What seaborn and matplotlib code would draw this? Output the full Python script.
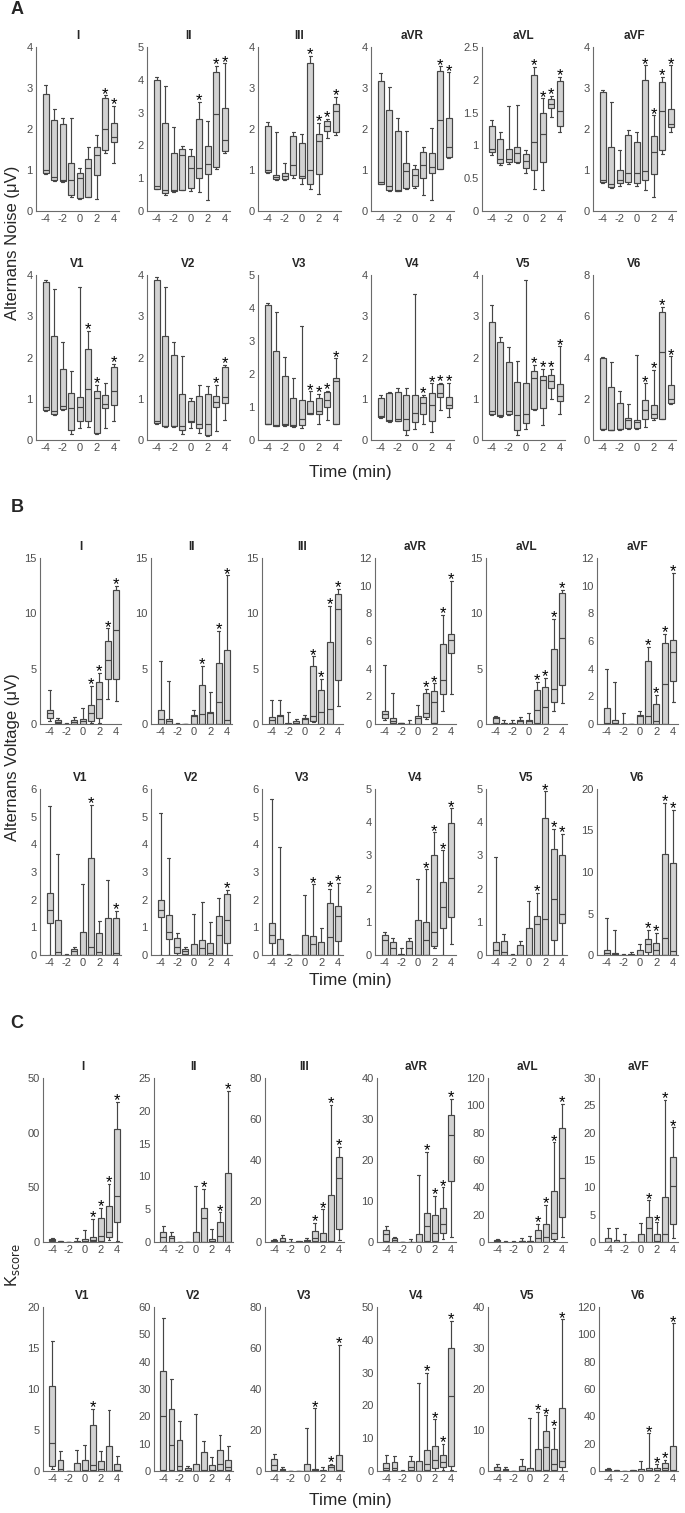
import numpy as np
import pandas as pd
import matplotlib
matplotlib.use("Agg")
import matplotlib.pyplot as plt
import seaborn as sns

# ── data ─────────────────────────────────────────────────────────────────────
TIMES = [-4, -3, -2, -1, 0, 1, 2, 3, 4]
LEADS = ["I", "II", "III", "aVR", "aVL", "aVF", "V1", "V2", "V3", "V4", "V5", "V6"]

# each box: (lower whisker, Q1, median, Q3, upper whisker), one per time point
NOISE = {
    "I":   [(0.90, 0.92, 1.00, 2.85, 3.07), (0.73, 0.75, 0.83, 2.23, 2.50), (0.70, 0.72, 0.75, 2.13, 2.27),
            (0.33, 0.38, 0.75, 1.17, 2.28), (0.30, 0.32, 0.80, 0.92, 1.04), (0.33, 0.35, 1.05, 1.28, 1.57),
            (0.30, 0.88, 1.37, 1.55, 1.85), (1.42, 1.50, 2.00, 2.75, 2.82), (1.18, 1.68, 1.80, 2.15, 2.57)],
    "II":  [(0.66, 0.68, 0.75, 4.00, 4.08), (0.50, 0.55, 0.65, 2.67, 3.80), (0.57, 0.60, 0.65, 1.78, 2.55),
            (0.63, 0.65, 1.70, 1.88, 1.97), (0.60, 0.70, 1.30, 1.68, 1.90), (0.58, 1.00, 1.30, 2.82, 3.33),
            (0.35, 1.12, 1.43, 1.98, 2.73), (1.27, 1.35, 2.97, 4.25, 4.42), (1.77, 1.83, 2.15, 3.13, 4.50)],
    "III": [(0.93, 0.95, 1.00, 2.08, 2.18), (0.75, 0.78, 0.83, 0.88, 1.92), (0.75, 0.78, 0.85, 0.92, 1.17),
            (0.80, 0.87, 1.12, 1.82, 1.93), (0.67, 0.80, 0.85, 1.67, 1.88), (0.53, 0.65, 1.00, 3.60, 3.78),
            (0.42, 0.90, 1.70, 1.88, 2.15), (1.78, 1.95, 2.08, 2.20, 2.25), (1.85, 1.92, 2.45, 2.62, 2.78)],
    "aVR": [(0.65, 0.67, 0.70, 3.18, 3.37), (0.48, 0.52, 0.60, 2.47, 3.03), (0.48, 0.50, 0.52, 1.95, 2.28),
            (0.53, 0.55, 0.98, 1.17, 1.95), (0.55, 0.62, 0.88, 1.03, 1.13), (0.38, 0.80, 1.12, 1.45, 1.57),
            (0.27, 0.93, 1.08, 1.42, 2.03), (1.02, 1.03, 2.23, 3.42, 3.53), (1.30, 1.32, 1.55, 2.27, 3.38)],
    "aVL": [(0.85, 0.90, 0.95, 1.30, 1.38), (0.70, 0.73, 0.80, 1.10, 1.20), (0.72, 0.75, 0.80, 0.95, 1.60),
            (0.73, 0.75, 0.88, 0.98, 1.61), (0.58, 0.65, 0.76, 0.87, 0.93), (0.33, 0.62, 1.05, 2.08, 2.20),
            (0.32, 0.75, 1.18, 1.50, 1.72), (1.43, 1.57, 1.63, 1.70, 1.76), (1.20, 1.30, 1.53, 1.98, 2.05)],
    "aVF": [(0.68, 0.70, 0.75, 2.90, 2.95), (0.55, 0.58, 0.67, 1.57, 2.65), (0.62, 0.68, 0.75, 1.00, 1.50),
            (0.67, 0.70, 0.92, 1.85, 1.97), (0.60, 0.68, 0.92, 1.68, 1.92), (0.52, 0.75, 0.98, 3.20, 3.55),
            (0.35, 0.90, 1.45, 1.82, 2.33), (1.40, 1.50, 2.45, 3.15, 3.27), (1.92, 2.05, 2.12, 2.50, 3.55)],
    "V1":  [(0.70, 0.72, 0.80, 3.82, 3.88), (0.60, 0.63, 0.70, 2.53, 3.65), (0.73, 0.75, 0.82, 1.72, 2.37),
            (0.15, 0.25, 0.77, 1.15, 1.68), (0.30, 0.45, 0.80, 1.05, 3.70), (0.32, 0.45, 1.23, 2.20, 2.65),
            (0.15, 0.18, 1.02, 1.18, 1.33), (0.30, 0.78, 0.88, 1.08, 1.37), (0.45, 0.85, 1.20, 1.78, 1.85)],
    "V2":  [(0.40, 0.42, 0.45, 3.88, 3.95), (0.32, 0.33, 0.35, 2.52, 3.70), (0.32, 0.33, 0.35, 2.05, 2.37),
            (0.15, 0.25, 0.35, 1.12, 2.03), (0.30, 0.43, 0.47, 0.95, 1.03), (0.17, 0.30, 0.40, 1.07, 1.33),
            (0.10, 0.13, 0.40, 1.12, 1.30), (0.23, 0.80, 0.92, 1.07, 1.33), (0.48, 0.90, 1.05, 1.77, 1.83)],
    "V3":  [(0.47, 0.48, 0.50, 4.08, 4.15), (0.42, 0.43, 0.45, 2.70, 3.88), (0.43, 0.45, 0.47, 1.93, 2.53),
            (0.40, 0.42, 0.45, 1.27, 1.88), (0.35, 0.45, 0.65, 1.20, 3.45), (0.78, 0.80, 0.83, 1.18, 1.47),
            (0.47, 0.80, 0.88, 1.27, 1.40), (0.60, 1.00, 1.20, 1.45, 1.50), (0.48, 0.50, 1.80, 1.87, 2.47)],
    "V4":  [(0.53, 0.55, 0.57, 1.03, 1.08), (0.43, 0.45, 0.48, 1.13, 1.17), (0.45, 0.47, 0.50, 1.17, 1.27),
            (0.13, 0.25, 0.52, 1.10, 1.25), (0.27, 0.43, 0.65, 1.08, 3.55), (0.40, 0.62, 0.90, 1.05, 1.10),
            (0.20, 0.45, 0.85, 1.15, 1.37), (0.72, 1.05, 1.15, 1.35, 1.38), (0.55, 0.77, 0.85, 1.05, 1.38)],
    "V5":  [(0.60, 0.63, 0.70, 2.85, 3.28), (0.55, 0.57, 0.60, 2.37, 2.50), (0.60, 0.62, 0.70, 1.90, 2.25),
            (0.13, 0.25, 0.60, 1.40, 1.92), (0.27, 0.42, 0.62, 1.38, 3.88), (0.73, 0.75, 1.50, 1.68, 1.83),
            (0.37, 0.78, 1.45, 1.55, 1.72), (1.00, 1.27, 1.43, 1.57, 1.72), (0.63, 0.95, 1.07, 1.35, 2.27)],
    "V6":  [(0.50, 0.53, 0.55, 4.00, 4.03), (0.48, 0.50, 0.50, 2.55, 3.80), (0.50, 0.53, 0.55, 1.80, 2.40),
            (0.55, 0.57, 0.95, 1.07, 1.75), (0.53, 0.57, 0.88, 0.97, 4.10), (0.63, 1.00, 1.45, 1.95, 2.75),
            (0.95, 1.05, 1.25, 1.70, 3.40), (1.00, 1.03, 4.25, 6.20, 6.45), (1.73, 1.80, 1.97, 2.65, 4.05)],
}
NOISE_STARS = {"I": [3, 4], "II": [1, 3, 4], "III": [1, 2, 3, 4], "aVR": [3, 4], "aVL": [1, 2, 3, 4],
               "aVF": [1, 2, 3, 4], "V1": [1, 2, 4], "V2": [3, 4], "V3": [1, 2, 3, 4], "V4": [1, 2, 3, 4],
               "V5": [1, 2, 3, 4], "V6": [1, 2, 3, 4]}
NOISE_YAXIS = {"I": (4, 1), "II": (5, 1), "III": (4, 1), "aVR": (4, 1), "aVL": (2.5, 0.5), "aVF": (4, 1),
               "V1": (4, 1), "V2": (4, 1), "V3": (5, 1), "V4": (4, 1), "V5": (4, 1), "V6": (8, 2)}

VOLTAGE = {
    "I":   [(0.30, 0.55, 0.95, 1.25, 3.05), (0.00, 0.05, 0.20, 0.35, 0.55), (0.00, 0.00, 0.01, 0.02, 0.05),
            (0.00, 0.02, 0.20, 0.40, 0.65), (0.00, 0.02, 0.25, 0.45, 1.48), (0.05, 0.30, 0.95, 1.75, 3.45),
            (0.10, 0.55, 2.30, 3.80, 4.60), (2.25, 4.05, 5.75, 7.50, 8.65), (2.05, 4.05, 8.50, 12.1, 12.5)],
    "II":  [(0.00, 0.00, 0.45, 1.30, 5.65), (0.00, 0.00, 0.30, 0.45, 3.85), (0.00, 0.00, 0.00, 0.02, 0.05),
            (0.00, 0.00, 0.00, 0.00, 0.00), (0.00, 0.00, 0.75, 0.85, 1.30), (0.00, 0.00, 0.90, 3.55, 5.25),
            (0.00, 0.00, 0.95, 1.05, 2.85), (0.00, 0.00, 2.00, 5.50, 8.40), (0.00, 0.00, 0.35, 6.65, 13.45)],
    "III": [(0.00, 0.00, 0.40, 0.65, 2.15), (0.00, 0.00, 0.75, 0.80, 2.20), (0.00, 0.00, 0.00, 0.05, 1.10),
            (0.00, 0.00, 0.10, 0.25, 0.45), (0.00, 0.00, 0.45, 0.55, 0.85), (0.20, 0.30, 0.75, 5.20, 6.10),
            (0.00, 0.00, 1.10, 3.05, 4.10), (0.00, 0.00, 1.40, 7.40, 10.7), (1.65, 4.00, 10.35, 11.75, 12.2)],
    "aVR": [(0.30, 0.40, 0.70, 0.95, 4.25), (0.00, 0.05, 0.25, 0.45, 2.25), (0.00, 0.02, 0.05, 0.08, 0.10),
            (0.00, 0.00, 0.00, 0.02, 0.30), (0.00, 0.00, 0.45, 0.60, 1.35), (0.35, 0.50, 0.80, 2.25, 2.55),
            (0.05, 0.10, 1.60, 2.40, 2.95), (0.95, 2.20, 3.20, 5.75, 7.90), (2.20, 5.10, 6.10, 6.50, 10.35)],
    "aVL": [(0.05, 0.10, 0.50, 0.65, 0.75), (0.00, 0.00, 0.00, 0.05, 0.35), (0.00, 0.00, 0.02, 0.05, 0.40),
            (0.00, 0.00, 0.25, 0.40, 0.60), (0.00, 0.00, 0.25, 0.40, 0.95), (0.00, 0.05, 1.25, 3.05, 3.80),
            (0.00, 0.00, 1.55, 3.35, 4.15), (1.15, 1.95, 3.15, 6.75, 9.50), (1.90, 3.55, 7.75, 11.85, 12.1)],
    "aVF": [(0.00, 0.00, 0.05, 1.15, 4.00), (0.00, 0.00, 0.05, 0.30, 3.00), (0.00, 0.00, 0.00, 0.02, 0.80),
            (0.00, 0.00, 0.00, 0.00, 0.00), (0.00, 0.00, 0.55, 0.65, 0.95), (0.00, 0.00, 0.55, 4.55, 5.60),
            (0.00, 0.00, 0.20, 1.45, 2.10), (0.00, 0.00, 2.90, 5.85, 6.50), (1.60, 3.10, 5.20, 6.05, 10.95)],
    "V1":  [(0.00, 1.15, 1.62, 2.25, 5.40), (0.00, 0.00, 0.12, 1.28, 3.65), (0.00, 0.00, 0.00, 0.01, 0.02),
            (0.00, 0.00, 0.15, 0.20, 0.30), (0.00, 0.00, 0.00, 0.82, 2.55), (0.00, 0.00, 0.28, 3.50, 5.42),
            (0.00, 0.00, 0.12, 0.80, 1.22), (0.00, 0.00, 0.00, 1.33, 2.72), (0.00, 0.00, 0.08, 1.33, 1.60)],
    "V2":  [(0.00, 1.38, 1.62, 1.98, 5.15), (0.00, 0.58, 0.82, 1.45, 3.52), (0.00, 0.08, 0.30, 0.60, 0.80),
            (0.00, 0.02, 0.15, 0.20, 0.28), (0.00, 0.00, 0.00, 0.40, 1.47), (0.00, 0.00, 0.25, 0.55, 1.92),
            (0.00, 0.00, 0.08, 0.45, 1.20), (0.00, 0.00, 0.72, 1.42, 2.07), (0.00, 0.45, 1.28, 2.20, 2.35)],
    "V3":  [(0.00, 0.42, 0.72, 1.15, 5.65), (0.00, 0.00, 0.00, 0.57, 3.90), (0.00, 0.00, 0.00, 0.00, 0.03),
            (0.00, 0.00, 0.00, 0.00, 0.00), (0.00, 0.00, 0.00, 0.72, 2.17), (0.00, 0.00, 0.40, 0.67, 2.55),
            (0.00, 0.00, 0.00, 0.47, 0.97), (0.00, 0.00, 0.65, 1.87, 2.40), (0.00, 0.52, 1.40, 1.77, 2.60)],
    "V4":  [(0.00, 0.00, 0.45, 0.60, 0.68), (0.00, 0.00, 0.20, 0.40, 0.50), (0.00, 0.00, 0.00, 0.02, 0.20),
            (0.00, 0.00, 0.20, 0.42, 0.50), (0.00, 0.00, 0.00, 1.05, 2.30), (0.00, 0.00, 0.45, 0.98, 2.58),
            (0.20, 0.28, 0.68, 3.00, 3.70), (0.00, 0.82, 1.45, 2.20, 3.15), (0.33, 1.13, 2.32, 3.98, 4.42)],
    "V5":  [(0.00, 0.00, 0.15, 0.38, 2.95), (0.00, 0.00, 0.08, 0.42, 0.63), (0.00, 0.00, 0.00, 0.00, 0.02),
            (0.00, 0.00, 0.00, 0.30, 0.42), (0.00, 0.00, 0.00, 0.82, 1.63), (0.00, 0.00, 0.92, 1.18, 1.87),
            (0.00, 0.00, 1.08, 4.12, 4.93), (0.00, 0.45, 1.68, 3.18, 3.80), (0.00, 0.95, 1.25, 3.00, 3.65)],
    "V6":  [(0.00, 0.00, 0.30, 0.55, 4.50), (0.00, 0.00, 0.10, 0.20, 3.00), (0.00, 0.00, 0.00, 0.00, 0.10),
            (0.00, 0.00, 0.00, 0.10, 0.35), (0.00, 0.00, 0.00, 0.55, 1.30), (0.00, 0.40, 1.35, 1.90, 3.00),
            (0.00, 0.00, 0.60, 1.45, 2.70), (0.00, 0.00, 2.10, 12.2, 18.3), (0.00, 0.00, 0.50, 11.1, 17.5)],
}
VOLTAGE_STARS = {"I": [1, 2, 3, 4], "II": [1, 3, 4], "III": [1, 2, 3, 4], "aVR": [1, 2, 3, 4],
                 "aVL": [1, 2, 3, 4], "aVF": [1, 2, 3, 4], "V1": [1, 4], "V2": [4], "V3": [1, 3, 4],
                 "V4": [1, 2, 3, 4], "V5": [1, 2, 3, 4], "V6": [1, 2, 3, 4]}
VOLTAGE_YAXIS = {"I": (15, 5), "II": (15, 5), "III": (15, 5), "aVR": (12, 2), "aVL": (15, 5), "aVF": (12, 2),
                 "V1": (6, 1), "V2": (6, 1), "V3": (6, 1), "V4": (5, 1), "V5": (5, 1), "V6": (20, 5)}

KSCORE = {
    "I":   [(0.0, 0.5, 2.0, 3.0, 4.0), (0.0, 0.0, 0.2, 0.5, 1.0), (0.0, 0.0, 0.0, 0.1, 0.3),
            (0.0, 0.0, 0.2, 0.5, 4.0), (0.0, 0.0, 0.5, 3.0, 11.0), (0.0, 0.5, 2.0, 4.5, 21.0),
            (0.0, 0.5, 5.5, 21.5, 31.5), (2.0, 5.0, 9.0, 32.5, 53.0), (0.5, 18.0, 42.5, 103.0, 128.0)],
    "II":  [(0.0, 0.0, 0.7, 1.6, 2.4), (0.0, 0.0, 0.6, 0.85, 1.5), (0.0, 0.0, 0.0, 0.02, 0.05),
            (0.0, 0.0, 0.0, 0.0, 0.0), (0.0, 0.0, 0.0, 1.5, 8.6), (0.0, 0.0, 3.6, 5.2, 8.1),
            (0.0, 0.0, 0.2, 0.5, 2.0), (0.0, 0.0, 0.9, 3.1, 4.5), (0.0, 0.0, 0.0, 10.5, 23.0)],
    "III": [(0.0, 0.0, 0.5, 1.0, 1.5), (0.0, 0.0, 0.5, 1.8, 3.5), (0.0, 0.0, 0.0, 0.1, 1.5),
            (0.0, 0.0, 0.2, 0.4, 0.5), (0.0, 0.0, 0.3, 1.0, 2.0), (0.0, 0.5, 2.0, 5.5, 9.5),
            (0.0, 0.0, 0.5, 4.5, 16.0), (0.0, 0.0, 0.5, 23.0, 67.0), (1.0, 6.5, 31.0, 41.5, 46.5)],
    "aVR": [(0.0, 0.3, 2.0, 2.9, 3.8), (0.0, 0.0, 0.5, 0.9, 1.3), (0.0, 0.0, 0.0, 0.05, 0.1),
            (0.0, 0.0, 0.0, 0.05, 0.7), (0.0, 0.0, 0.1, 2.0, 16.3), (0.0, 0.3, 4.0, 7.0, 22.0),
            (0.0, 0.2, 2.3, 6.7, 11.3), (0.8, 2.2, 4.5, 8.2, 13.3), (1.3, 14.8, 26.2, 31.0, 35.0)],
    "aVL": [(0.0, 0.2, 1.0, 1.8, 2.5), (0.0, 0.0, 0.0, 0.2, 0.5), (0.0, 0.0, 0.0, 0.2, 0.5),
            (0.0, 0.0, 0.5, 1.0, 3.0), (0.0, 0.0, 0.5, 1.0, 4.5), (0.0, 0.3, 3.0, 8.5, 13.5),
            (0.0, 0.2, 4.0, 13.0, 27.0), (1.0, 2.0, 6.5, 37.0, 73.0), (4.0, 18.5, 46.5, 83.5, 101.0)],
    "aVF": [(0.0, 0.0, 0.05, 0.8, 2.5), (0.0, 0.0, 0.05, 0.4, 2.6), (0.0, 0.0, 0.0, 0.02, 1.4),
            (0.0, 0.0, 0.0, 0.0, 0.0), (0.0, 0.0, 0.0, 1.4, 3.5), (0.0, 0.0, 2.5, 4.6, 7.6),
            (0.0, 0.0, 0.2, 1.5, 3.6), (0.0, 0.0, 1.4, 8.2, 26.0), (0.8, 3.3, 10.3, 15.5, 21.0)],
    "V1":  [(0.2, 0.6, 3.4, 10.4, 15.8), (0.0, 0.0, 0.2, 1.4, 2.5), (0.0, 0.0, 0.0, 0.02, 0.05),
            (0.0, 0.0, 0.0, 1.0, 2.6), (0.0, 0.0, 0.1, 1.3, 3.2), (0.0, 0.1, 0.7, 5.6, 7.6),
            (0.0, 0.0, 0.2, 1.2, 2.5), (0.0, 0.0, 0.0, 3.1, 7.4), (0.0, 0.0, 0.1, 0.8, 1.8)],
    "V2":  [(0.0, 0.5, 20.0, 36.5, 55.8), (0.0, 0.5, 9.5, 22.6, 33.7), (0.0, 0.3, 2.0, 11.5, 18.2),
            (0.0, 0.0, 0.5, 1.2, 2.0), (0.0, 0.0, 0.0, 2.6, 20.7), (0.0, 0.0, 0.5, 7.0, 11.0),
            (0.0, 0.0, 0.5, 2.2, 5.0), (0.0, 0.5, 2.5, 7.8, 13.0), (0.0, 0.5, 1.5, 4.2, 9.0)],
    "V3":  [(0.0, 0.3, 3.0, 5.8, 8.5), (0.0, 0.0, 0.3, 1.0, 1.8), (0.0, 0.0, 0.0, 0.0, 0.1),
            (0.0, 0.0, 0.0, 0.0, 0.0), (0.0, 0.0, 0.0, 3.5, 21.0), (0.0, 0.0, 0.3, 1.0, 30.5),
            (0.0, 0.0, 0.0, 0.4, 1.8), (0.0, 0.2, 1.8, 2.8, 3.5), (0.0, 0.0, 0.5, 7.8, 61.5)],
    "V4":  [(0.0, 0.2, 1.0, 2.5, 4.9), (0.0, 0.2, 0.8, 2.7, 4.7), (0.0, 0.0, 0.0, 0.1, 0.3),
            (0.0, 0.2, 1.3, 3.2, 4.6), (0.0, 0.0, 0.0, 3.0, 26.8), (0.0, 0.2, 2.2, 6.3, 29.9),
            (0.0, 0.8, 3.3, 7.5, 15.8), (0.3, 1.2, 2.6, 4.8, 8.2), (0.3, 1.5, 22.8, 37.5, 45.8)],
    "V5":  [(0.0, 0.0, 0.3, 0.9, 1.7), (0.0, 0.0, 0.2, 0.5, 0.9), (0.0, 0.0, 0.0, 0.0, 0.1),
            (0.0, 0.0, 0.3, 1.3, 2.9), (0.0, 0.0, 0.0, 0.8, 13.0), (0.0, 0.0, 0.3, 5.4, 14.5),
            (0.0, 0.3, 5.8, 9.7, 13.6), (0.0, 0.3, 1.6, 5.4, 10.6), (0.0, 1.0, 2.4, 15.4, 37.0)],
    "V6":  [(0.0, 0.2, 0.8, 1.8, 2.0), (0.0, 0.0, 0.2, 0.5, 0.8), (0.0, 0.0, 0.0, 0.0, 0.2),
            (0.0, 0.0, 0.2, 0.5, 1.0), (0.0, 0.0, 0.3, 1.5, 7.5), (0.0, 0.0, 0.5, 2.0, 27.5),
            (0.0, 0.0, 0.5, 2.0, 5.0), (0.0, 0.5, 2.5, 5.5, 8.0), (0.0, 0.0, 0.5, 18.5, 108.0)],
}
KSCORE_STARS = {"I": [1, 2, 3, 4], "II": [1, 3, 4], "III": [1, 2, 3, 4], "aVR": [1, 2, 3, 4],
                "aVL": [1, 2, 3, 4], "aVF": [1, 2, 3, 4], "V1": [1], "V2": [], "V3": [1, 3, 4],
                "V4": [1, 2, 3, 4], "V5": [1, 2, 3, 4], "V6": [1, 2, 3, 4]}
KSCORE_YAXIS = {"I": (150, 50), "II": (25, 5), "III": (80, 20), "aVR": (40, 10), "aVL": (120, 20),
                "aVF": (30, 5), "V1": (20, 5), "V2": (60, 10), "V3": (80, 20), "V4": (50, 10),
                "V5": (40, 10), "V6": (120, 20)}
# lead I of panel C has its hundreds digit cut off in the original figure
KSCORE_I_TICKLABELS = ["0", "50", "00", "50"]

# ── style ────────────────────────────────────────────────────────────────────
sns.set_theme(style="white")
plt.rcParams["font.family"] = ["Liberation Sans", "DejaVu Sans"]

BOX_FILL = "#d2d2d2"
EDGE = "#454545"
AXIS_GREY = "#6b6b6b"
TICK_TEXT = "#4d4d4d"

W, H = 685, 1513
fig = plt.figure(figsize=(W / 100, H / 100), dpi=100)

# panel geometry in pixels: (list of left edges, width), rows as (top, bottom)
SECTIONS = [
    dict(letter="A", letter_y=10, data=NOISE, stars=NOISE_STARS, yaxis=NOISE_YAXIS,
         lefts=[36, 147, 258, 371, 482, 593], width=83, rows=[(47, 211), (275, 440)],
         ylabel="Alternans Noise (\u03bcV)", ylabel_y=243, time_y=472),
    dict(letter="B", letter_y=508, data=VOLTAGE, stars=VOLTAGE_STARS, yaxis=VOLTAGE_YAXIS,
         lefts=[40, 151, 262, 375, 486, 597], width=81, rows=[(558, 724), (789, 955)],
         ylabel="Alternans Voltage (\u03bcV)", ylabel_y=757, time_y=981),
    dict(letter="C", letter_y=1023, data=KSCORE, stars=KSCORE_STARS, yaxis=KSCORE_YAXIS,
         lefts=[43, 154, 265, 377, 488, 599], width=79, rows=[(1078, 1242), (1307, 1471)],
         ylabel="K$_{\\rm score}$", ylabel_y=1265, time_y=1501),
]


def draw_panel(ax, lead, boxes, star_times, ymax, step, ticklabels=None):
    rows = []
    for t, five in zip(TIMES, boxes):
        for v in sorted(five):
            rows.append({"time": t, "value": v})
    df = pd.DataFrame(rows)

    sns.boxplot(data=df, x="time", y="value", order=TIMES, whis=(0, 100),
                width=0.72, color=BOX_FILL, linecolor=EDGE, linewidth=0.85,
                showfliers=False, ax=ax)

    # significance stars above the upper whisker
    for t in star_times:
        i = TIMES.index(t)
        ax.annotate("*", (i, max(boxes[i])), xytext=(0, -2.5), textcoords="offset points",
                    ha="center", va="baseline", fontsize=12, color="black",
                    annotation_clip=False)

    ax.set_xlim(-1.15, 8.6)
    ax.set_ylim(0, ymax)
    ax.set_xticks([0, 2, 4, 6, 8])
    ax.set_xticklabels(["-4", "-2", "0", "2", "4"])
    yt = np.arange(0, ymax + step / 2, step)
    ax.set_yticks(yt)
    if ticklabels is not None:
        ax.set_yticklabels(ticklabels)
    else:
        ax.set_yticklabels([f"{v:g}" for v in yt])
    ax.set_xlabel("")
    ax.set_ylabel("")
    ax.set_title(lead, fontsize=8.5, fontweight="bold", pad=5.5)
    sns.despine(ax=ax)
    for side in ["left", "bottom"]:
        ax.spines[side].set_color(AXIS_GREY)
        ax.spines[side].set_linewidth(0.8)
    ax.tick_params(direction="in", length=2.5, width=0.7, color=AXIS_GREY,
                   labelcolor=TICK_TEXT, labelsize=8, pad=2.5)


for sec in SECTIONS:
    for r, (top, bottom) in enumerate(sec["rows"]):
        for c in range(6):
            lead = LEADS[r * 6 + c]
            left = sec["lefts"][c]
            ax = fig.add_axes([left / W, 1 - bottom / H, sec["width"] / W, (bottom - top) / H])
            ymax, step = sec["yaxis"][lead]
            labels = KSCORE_I_TICKLABELS if (sec["letter"] == "C" and lead == "I") else None
            draw_panel(ax, lead, sec["data"][lead], sec["stars"][lead], ymax, step, labels)

    fig.text(17 / W, 1 - sec["letter_y"] / H, sec["letter"], fontsize=13, fontweight="bold",
             ha="center", va="center")
    fig.text(13 / W, 1 - sec["ylabel_y"] / H, sec["ylabel"], fontsize=12, rotation=90,
             ha="center", va="center")
    fig.text(350 / W, 1 - sec["time_y"] / H, "Time (min)", fontsize=12.5,
             ha="center", va="center")

fig.savefig("out.png", dpi=100)
